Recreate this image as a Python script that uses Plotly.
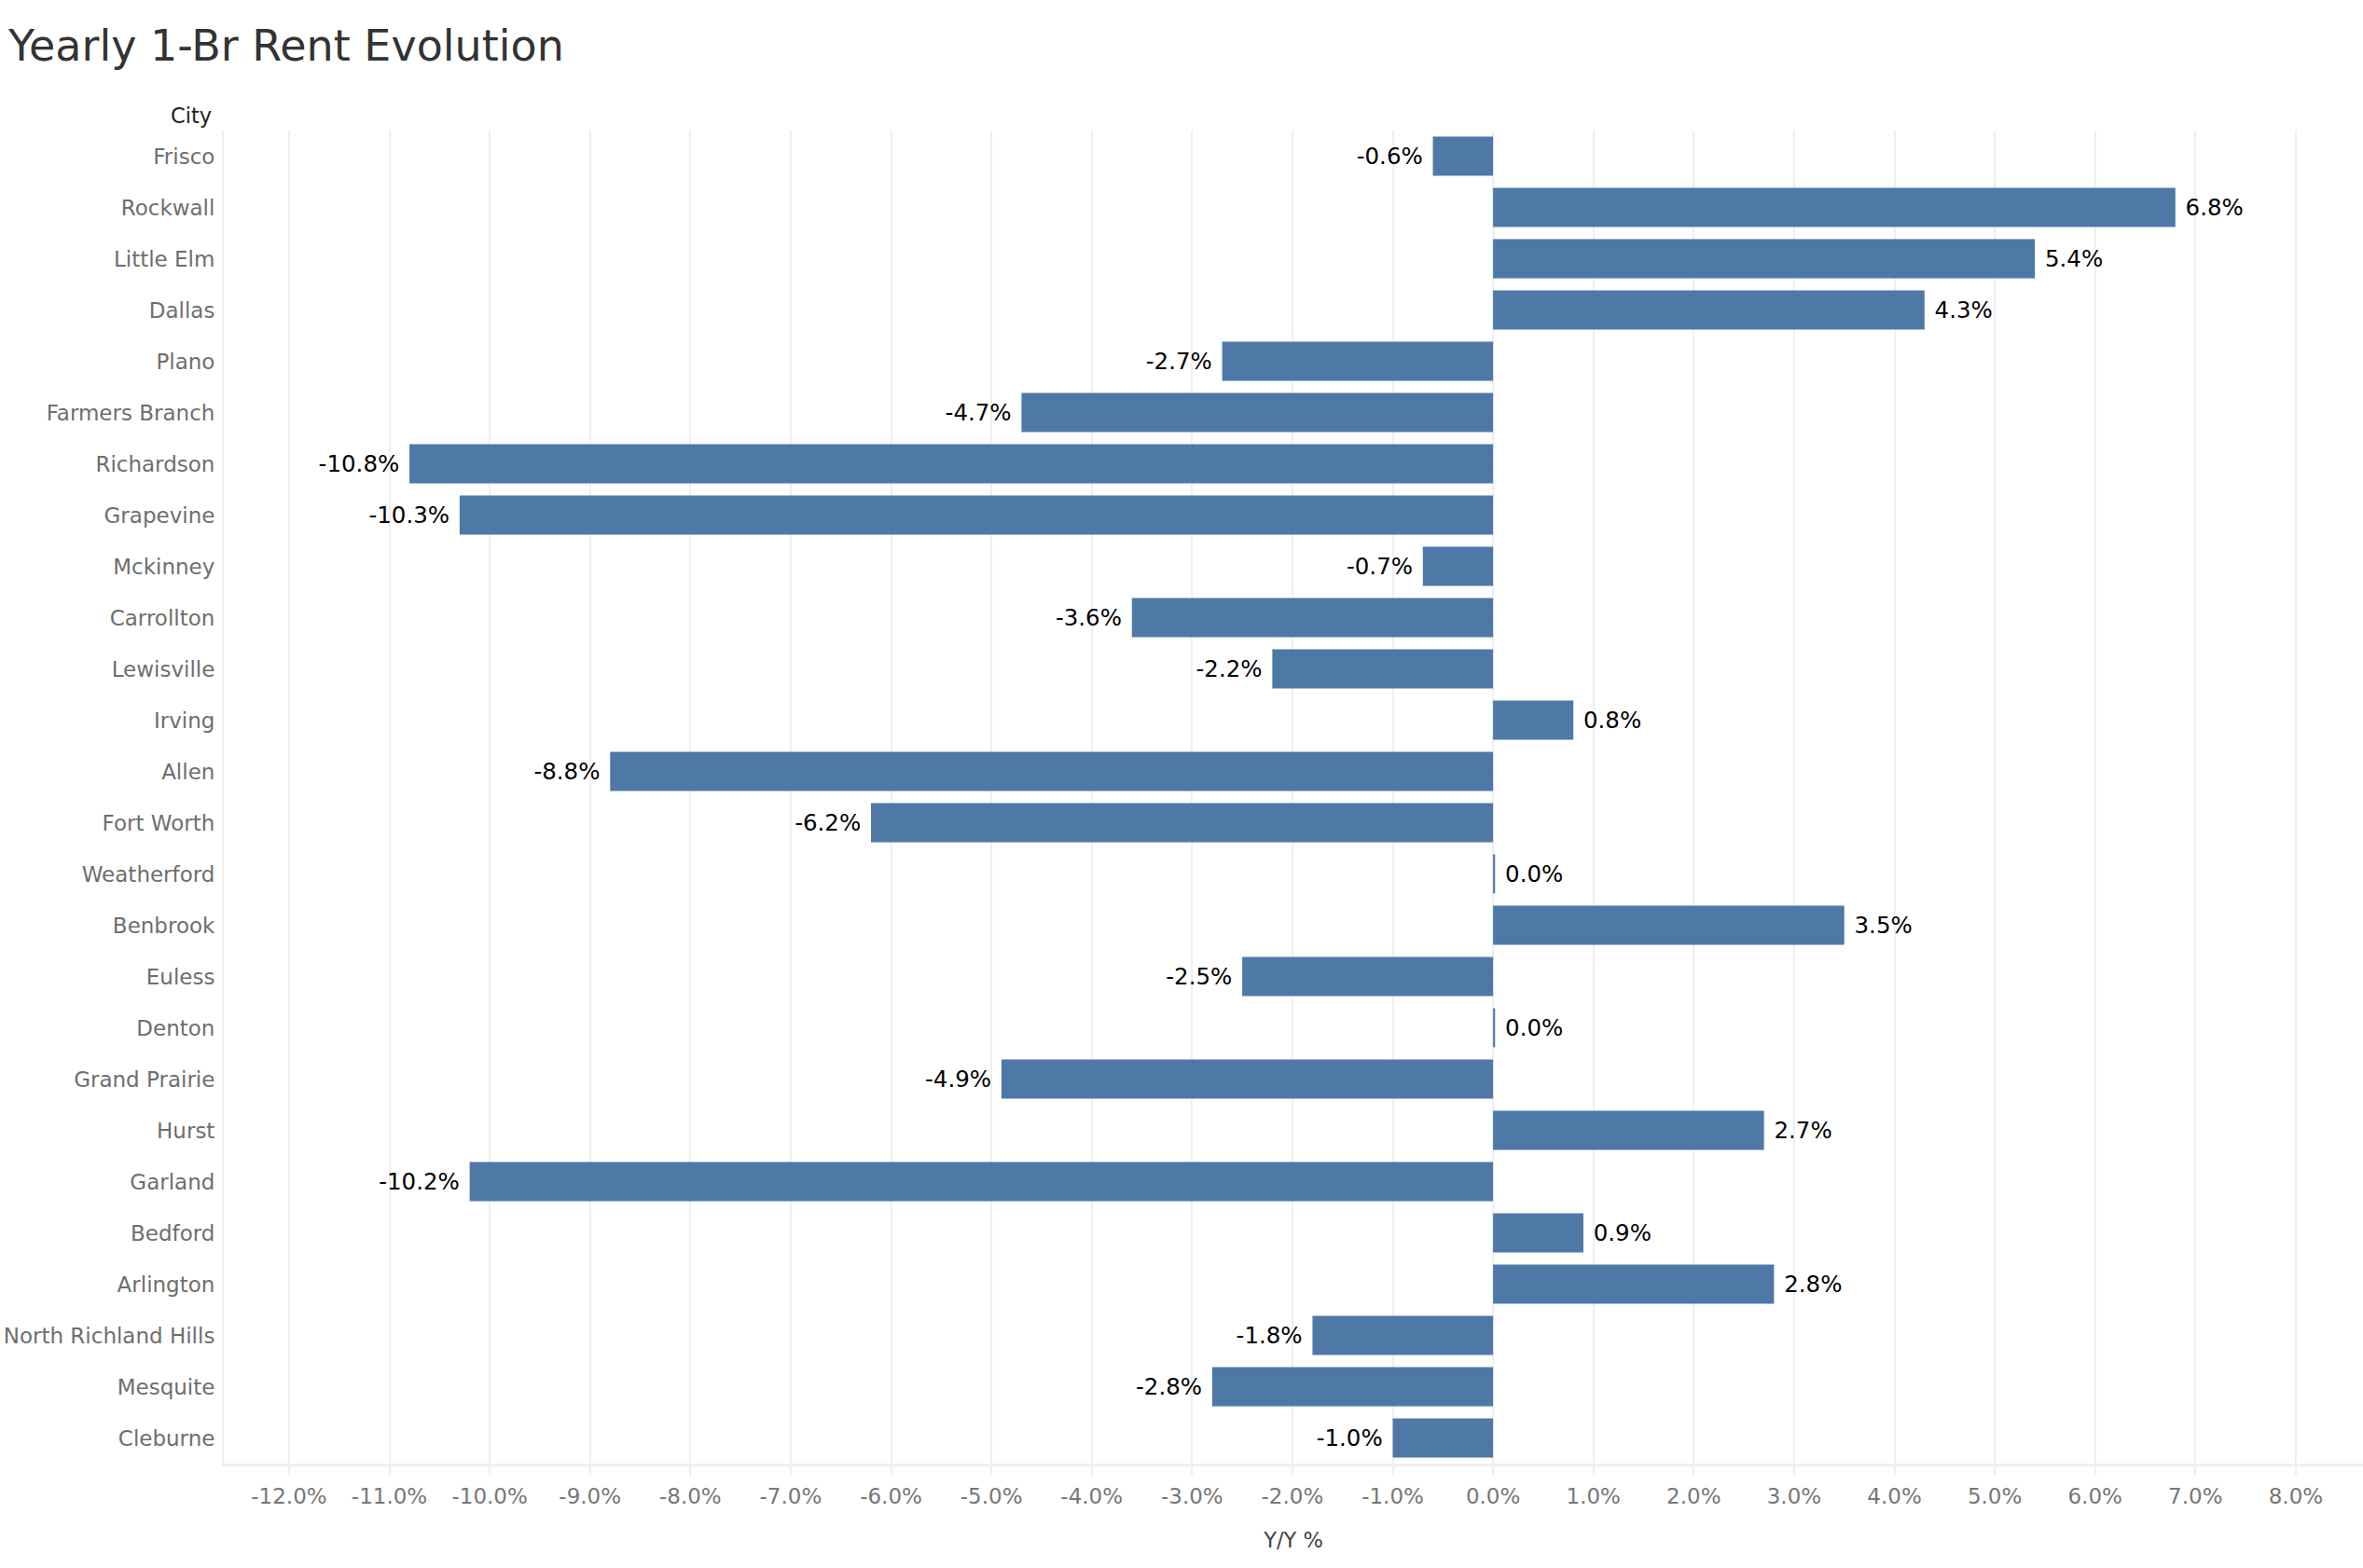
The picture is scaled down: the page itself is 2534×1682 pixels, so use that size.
import plotly.graph_objects as go

cities = ["Frisco", "Rockwall", "Little Elm", "Dallas", "Plano", "Farmers Branch",
          "Richardson", "Grapevine", "Mckinney", "Carrollton", "Lewisville", "Irving",
          "Allen", "Fort Worth", "Weatherford", "Benbrook", "Euless", "Denton",
          "Grand Prairie", "Hurst", "Garland", "Bedford", "Arlington",
          "North Richland Hills", "Mesquite", "Cleburne"]
yy_pct = [-0.6, 6.8, 5.4, 4.3, -2.7, -4.7, -10.8, -10.3, -0.7, -3.6, -2.2, 0.8,
          -8.8, -6.2, 0.02, 3.5, -2.5, 0.02, -4.9, 2.7, -10.2, 0.9, 2.8, -1.8, -2.8, -1.0]
tick_vals = list(range(-12, 9))
tick_text = [f"{v:.1f}%" for v in tick_vals]
NB = "\u00a0"
bar_text = [(f"{v:.1f}%" + NB) if v < 0 else (NB + f"{v:.1f}%") for v in yy_pct]

FONT = "DejaVu Sans"

fig = go.Figure()
fig.add_trace(go.Bar(
    x=yy_pct, y=cities, orientation="h",
    marker=dict(color="#4e79a7", line=dict(width=0)),
    text=bar_text, textposition="outside", cliponaxis=False,
    constraintext="none",
    textfont=dict(family=FONT, size=24.5, color="#000000"),
    hoverinfo="skip",
))

fig.add_shape(type="line", xref="x", yref="paper", x0=0, x1=0, y0=0, y1=1,
              line=dict(color="#c4c4c4", width=2, dash="dash"), layer="below")

fig.update_layout(
    width=2534, height=1682,
    margin=dict(l=240, r=0, t=140, b=112),
    paper_bgcolor="white", plot_bgcolor="white",
    bargap=0.24, showlegend=False,
    font=dict(family=FONT),
    title=dict(text="Yearly 1-Br Rent Evolution", xref="container", yref="container",
               x=9 / 2534, y=1 - 49 / 1682, xanchor="left", yanchor="middle",
               font=dict(family=FONT, size=46, color="#333333")),
    annotations=[dict(text="City", xref="paper", yref="paper", x=0, y=1,
                      xanchor="right", yanchor="middle", xshift=-11, yshift=16,
                      showarrow=False, font=dict(family=FONT, size=22.5, color="#222222"))],
)

fig.update_xaxes(
    range=[-12.65, 8.67], tickvals=tick_vals, ticktext=tick_text,
    showgrid=True, gridcolor="#efefef", gridwidth=2,
    zeroline=False, showline=True, linecolor="#efefef", linewidth=3,
    ticks="outside", ticklen=10, tickwidth=2, tickcolor="#efefef",
    ticklabelstandoff=2,
    tickfont=dict(family=FONT, size=23, color="#777777"),
    title=dict(text="Y/Y %", standoff=28, font=dict(family=FONT, size=22.5, color="#444444")),
)
fig.update_yaxes(
    categoryorder="array", categoryarray=cities, autorange="reversed",
    showgrid=False, zeroline=False, showline=True, linecolor="#efefef", linewidth=2,
    ticks="", ticklabelstandoff=3,
    tickfont=dict(family=FONT, size=23, color="#6e6e6e"),
)

fig.write_html("out.html", config={"displayModeBar": False},
               post_script="document.body.style.margin='0';document.body.style.padding='0';")
